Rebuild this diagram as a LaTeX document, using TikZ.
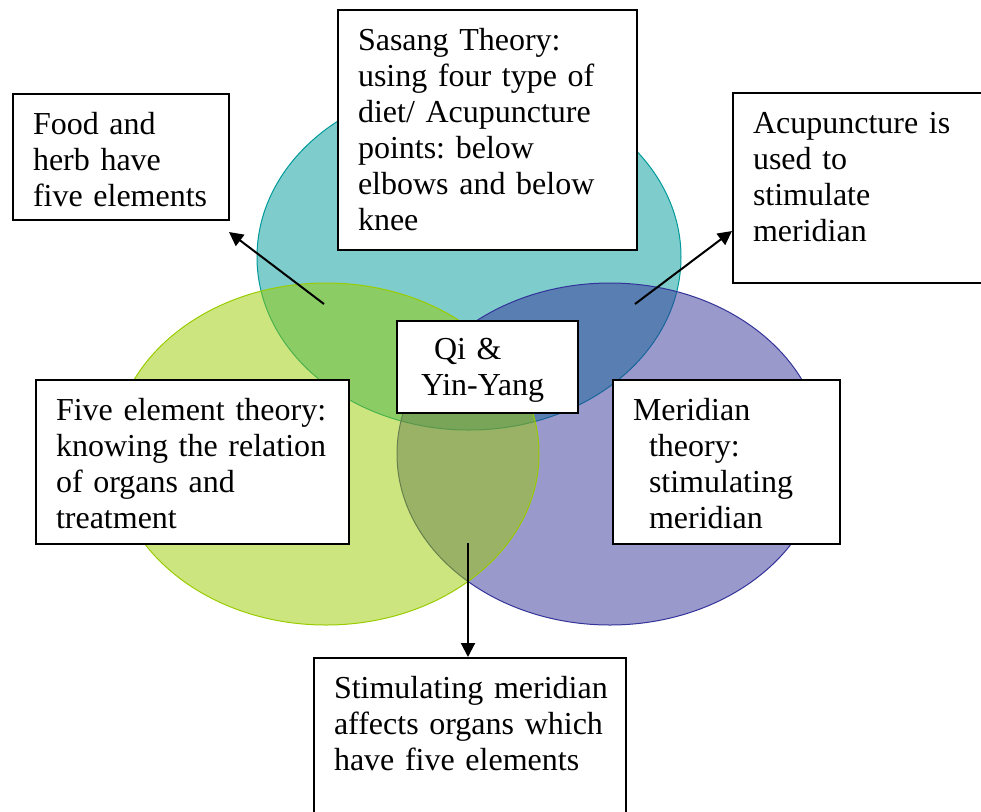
\documentclass[tikz,border=0pt]{standalone}
\usepackage{fontspec}
\setmainfont{Liberation Serif}
\usetikzlibrary{arrows.meta,positioning}
\frenchspacing
\hyphenpenalty=10000
\definecolor{sasangColor}{HTML}{009999}
\definecolor{fiveColor}{HTML}{99CC00}
\definecolor{meridColor}{HTML}{333399}
\tikzset{
	circ/.style={fill=#1, fill opacity=0.5, draw=#1, line width=0.5pt},
	txtbox/.style={draw, line width=1pt, fill=white, anchor=north west, align=left,
		inner xsep=10pt, inner ysep=0pt, text height=20pt,
		font=\fontsize{16pt}{18pt}\selectfont}
}
\newcommand{\ind}[1]{\hspace*{#1}}

\begin{document}
\begin{tikzpicture}[x=0.5pt,y=-0.5pt,
 >={Triangle[length=7pt,width=7pt]}, arr/.style={->, line width=1pt}]
\useasboundingbox (0,0) rectangle (981,811);
% the three circles
\draw[circ=sasangColor] (469,257) ellipse [x radius=106pt, y radius=86.5pt];
\draw[circ=meridColor] (610,454) ellipse [x radius=106.5pt, y radius=85.5pt];
\draw[circ=fiveColor] (326,454) ellipse [x radius=106.5pt, y radius=85.5pt];

\node[txtbox, text width=88pt, text depth=43pt] (food) at (12,93) {Food and\\herb have\\five elements};
\node[txtbox, text width=129.5pt, text depth=100pt] (sasang) at (337,9) {Sasang Theory:\\using four type of\\diet/ Acupuncture\\points: below\\elbows and below\\knee};
\node[txtbox, text width=109pt, text depth=75pt] (acu) at (732,92) {Acupuncture is\\used to\\stimulate\\meridian};
\node[txtbox, inner xsep=12pt, text height=19pt, text width=66.5pt, text depth=27pt] (qi) at (396,320) {\ind{6.5pt}Qi \&\\Yin-Yang};
\node[txtbox, text width=136.5pt, text depth=62pt] (five) at (35,379) {Five element theory:\\knowing the relation\\of organs and\\treatment};
\node[txtbox, text width=93.5pt, text depth=62pt] (merid) at (612,379) {Meridian\\\ind{8pt}theory:\\\ind{8pt}stimulating\\\ind{8pt}meridian};
\node[txtbox, text width=136pt, text depth=66.5pt] (stim) at (313,657) {\mbox{Stimulating meridian}\\affects organs which\\have five elements};

% arrows
\coordinate (foodTail) at (324,304);
\coordinate (foodTip) at (229,232);
\coordinate (acuTail) at (635,304);
\coordinate (acuTip) at (732,231);
\coordinate (stimTail) at (468,543);
\draw[arr] (foodTail) -- (foodTip);
\draw[arr] (acuTail) -- (acuTip);
\draw[arr] (stimTail) -- (stimTail |- stim.north);
\end{tikzpicture}
\end{document}
